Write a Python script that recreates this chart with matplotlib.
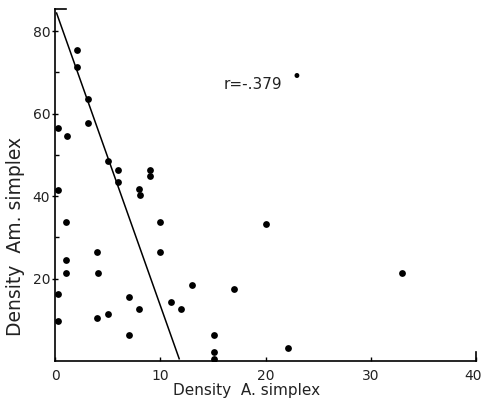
import numpy as np
import matplotlib
matplotlib.use('Agg')
import matplotlib.pyplot as plt

plt.rcParams['font.family'] = 'DejaVu Sans'

# data
densA = [2.1, 2.1, 3.1, 3.1, 0.25, 1.1, 5.0, 6.0, 6.0, 9.0, 9.0, 8.0, 8.1, 0.3,
         1.0, 10.0, 4.0, 10.0, 1.0, 1.05, 4.05, 13.0, 0.3, 7.0, 11.0, 8.0, 12.0,
         5.0, 4.0, 0.3, 7.0, 15.1, 15.1, 15.1, 17.0, 20.0, 33.0, 22.1]
densAm = [75.5, 71.4, 63.5, 57.7, 56.6, 54.5, 48.5, 46.4, 43.5, 46.4, 44.9, 41.8, 40.3, 41.5,
          33.7, 33.7, 26.5, 26.5, 24.5, 21.4, 21.4, 18.5, 16.2, 15.5, 14.3, 12.5, 12.5,
          11.4, 10.4, 9.6, 6.2, 6.4, 2.3, 0.6, 17.4, 33.2, 21.3, 3.2]

# fitted line as drawn
fitX = [0.15, 11.8]
fitIntercept = 85.5
fitSlope = -7.2
rText = 'r=-.379'

xTicks = [0, 10, 20, 30, 40]
xTickLabels = ['0', '10', '20', '30', '']
yTicks = [20, 40, 60, 80]

txtCol = '#222222'

fig = plt.figure(figsize=(4.82, 4.05), dpi=100)
ax = fig.add_axes([55/482, 44/405, 421/482, 352/405])

ax.scatter(densA, densAm, s=24, color='black', zorder=3, linewidths=0)
fx = np.array(fitX)
ax.plot(fx, fitIntercept + fitSlope*fx, color='black', lw=1.1)

ax.set_xlim(0, 40)
ax.set_ylim(0, 85.4)
ax.set_xticks(xTicks)
ax.set_xticklabels(xTickLabels)
ax.set_yticks(yTicks)
ax.set_yticks([10, 30, 50, 70], minor=True)

for s in ['top', 'right']:
    ax.spines[s].set_visible(False)
for s in ['left', 'bottom']:
    ax.spines[s].set_linewidth(1.2)

# little end marks on the axes
ax.axhline(85.4, xmin=0, xmax=0.025, color='black', lw=1.2, clip_on=False)
ax.axvline(40, ymin=0, ymax=0.025, color='black', lw=1.2, clip_on=False)

ax.tick_params(axis='x', direction='in', length=3, width=1, labelsize=10, pad=6, labelcolor=txtCol)
ax.tick_params(axis='y', which='major', direction='inout', length=5, width=1, labelsize=10, pad=1,
               labelcolor=txtCol)
ax.tick_params(axis='y', which='minor', direction='in', length=3, width=1)

# last x label sits against the right edge of the page
ax.annotate('40', xy=(xTicks[-1], 0), xytext=(4.5, -6), textcoords='offset points',
            ha='right', va='top', fontsize=10, color=txtCol, annotation_clip=False)

ax.text(16.0, 67, rText, fontsize=11, va='center', ha='left', color=txtCol)
ax.text(22.9, 68.8, '\u2022', fontsize=12, va='center', ha='center')

fig.text(247/482, 1 - 391/405, 'Density  A. simplex', fontsize=11, ha='center', va='center',
         color=txtCol)
fig.text(16/482, 1 - 236/405, 'Density  Am. simplex', fontsize=13.5, ha='center', va='center',
         rotation=90, color=txtCol)

plt.savefig('out.png', dpi=100)
